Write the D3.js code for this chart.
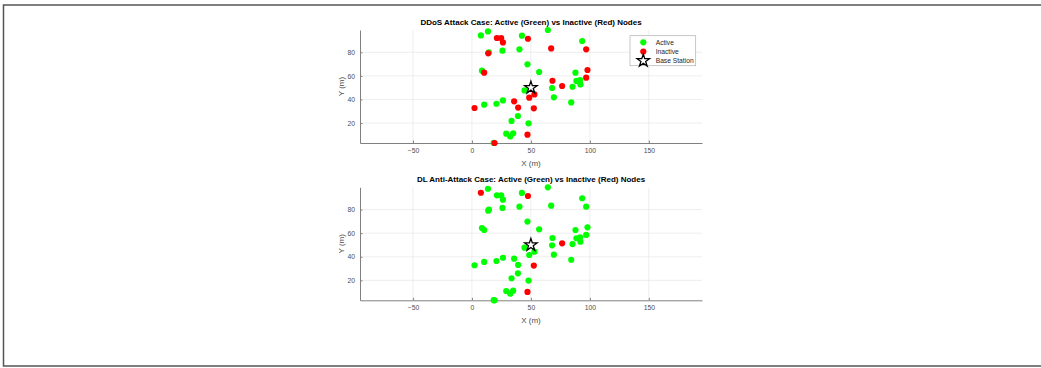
<!DOCTYPE html>
<html>
<head>
<meta charset="utf-8">
<script src="https://cdn.jsdelivr.net/npm/d3@7"></script>
<style>
  body { margin: 0; background: #fff; }
  svg { display: block; font-family: "Liberation Sans", Arial, sans-serif; }
  .grid line { stroke: #e3e3e3; stroke-width: 0.6; }
  .axis path, .axis line { stroke: #808080; }
  .axis text { fill: #4d4d4d; font-size: 6.8px; }
</style>
</head>
<body>
<svg width="1041" height="368"></svg>
<script>
// node positions (m), same nodes in both panels
const nodeX = [7.6, 13.6, 21.2, 24.8, 26.3, 42.4, 47.5, 14.4, 13.8, 25.9,
               40.3, 47.1, 8.5, 10.4, 44.6, 48.6, 26.3, 35.8, 20.8, 10.4,
               2.2, 39.2, 39.0, 33.6, 48.0, 29.1, 35.0, 32.5, 47.1, 19.2,
               64.4, 93.5, 67.2, 96.9, 57.0, 87.8, 98.0, 68.3, 88.6, 91.8,
               92.0, 96.9, 76.5, 68.0, 85.3, 53.0, 69.5, 84.2, 52.5, 18.5]
const nodeY = [94.3, 97.7, 92.1, 92.1, 88.4, 94.1, 91.5, 79.9, 79.1, 81.4,
               82.5, 69.8, 64.4, 62.7, 47.7, 41.5, 39.2, 38.4, 36.4, 35.6,
               32.8, 33.1, 26.0, 21.8, 19.8, 11.0, 11.3, 8.7, 10.2, 3.1,
               98.9, 89.6, 83.3, 82.5, 63.3, 62.7, 65.0, 55.9, 55.7, 56.5,
               52.8, 58.5, 51.4, 49.7, 50.8, 44.3, 41.8, 37.5, 32.5, 3.2]
// 1 = active, 0 = inactive
const ddosActive = [1, 1, 0, 0, 0, 1, 0, 1, 0, 1,
                    1, 1, 1, 0, 1, 0, 1, 0, 1, 1,
                    0, 0, 1, 1, 1, 1, 1, 1, 0, 0,
                    1, 1, 0, 0, 1, 1, 0, 0, 1, 1,
                    1, 0, 0, 1, 1, 0, 1, 1, 0, 1]
const dlActive = [0, 1, 1, 1, 1, 1, 0, 1, 1, 1,
                  1, 1, 1, 1, 1, 1, 1, 1, 1, 1,
                  1, 1, 1, 1, 1, 1, 1, 1, 0, 1,
                  1, 1, 1, 1, 1, 1, 1, 1, 1, 1,
                  1, 1, 0, 1, 1, 1, 1, 1, 0, 1]
const baseStation = [50, 50]
const xTicks = [-50, 0, 50, 100, 150]
const yTicks = [20, 40, 60, 80]
const legendLabels = ['Active', 'Inactive', 'Base Station']
const titles = [
    'DDoS Attack Case: Active (Green) vs Inactive (Red) Nodes',
    'DL Anti-Attack Case: Active (Green) vs Inactive (Red) Nodes'
]

const svg = d3.select('svg')

// figure frame
svg.append('rect')
    .attr('x', 3.5).attr('y', 5).attr('width', 1050).attr('height', 361)
    .attr('fill', 'none').attr('stroke', '#555').attr('stroke-width', 1.5)

const left = 360, right = 702, plotH = 113
const x = d3.scaleLinear().domain([-94.9, 195.1]).range([left, right])

const star = d3.symbol().type(d3.symbolStar).size(48)
const dot = d3.symbol().type(d3.symbolCircle).size(30)

function drawPanel(top, status, title, withLegend) {
    const y = d3.scaleLinear().domain([3.1, 98.9]).range([top + plotH, top])
    const g = svg.append('g')

    // grid
    const grid = g.append('g').attr('class', 'grid')
    grid.selectAll('.gx').data(xTicks).enter().append('line')
        .attr('x1', d => x(d)).attr('x2', d => x(d))
        .attr('y1', top).attr('y2', top + plotH)
    grid.selectAll('.gy').data(yTicks).enter().append('line')
        .attr('x1', left).attr('x2', right)
        .attr('y1', d => y(d)).attr('y2', d => y(d))

    g.append('g').attr('class', 'axis')
        .attr('transform', 'translate(0,' + (top + plotH) + ')')
        .call(d3.axisBottom(x).tickValues(xTicks).tickSizeInner(-2.5).tickSizeOuter(0).tickPadding(5))
    g.append('g').attr('class', 'axis')
        .attr('transform', 'translate(' + left + ',0)')
        .call(d3.axisLeft(y).tickValues(yTicks).tickSizeInner(-2.5).tickSizeOuter(0).tickPadding(5))

    g.append('text')
        .attr('x', (left + right) / 2).attr('y', top + plotH + 22.5)
        .attr('text-anchor', 'middle').attr('fill', '#4d4d4d').attr('font-size', '8px')
        .text('X (m)')
    g.append('text')
        .attr('transform', 'translate(344,' + (top + plotH / 2) + ') rotate(-90)')
        .attr('text-anchor', 'middle').attr('fill', '#4d4d4d').attr('font-size', '8px')
        .text('Y (m)')
    g.append('text')
        .attr('x', (left + right) / 2).attr('y', top - 5)
        .attr('text-anchor', 'middle').attr('font-weight', 'bold').attr('font-size', '8px')
        .attr('fill', '#000')
        .text(title)

    const idx = d3.range(nodeX.length)
    // active first, inactive drawn on top
    g.selectAll('.on').data(idx.filter(i => status[i] === 1)).enter().append('path')
        .attr('d', dot)
        .attr('transform', i => 'translate(' + x(nodeX[i]) + ',' + y(nodeY[i]) + ')')
        .attr('fill', '#00ff00')
    g.selectAll('.off').data(idx.filter(i => status[i] === 0)).enter().append('path')
        .attr('d', dot)
        .attr('transform', i => 'translate(' + x(nodeX[i]) + ',' + y(nodeY[i]) + ')')
        .attr('fill', '#ff0000')
    g.append('path')
        .attr('d', star)
        .attr('transform', 'translate(' + x(baseStation[0]) + ',' + y(baseStation[1]) + ')')
        .attr('fill', '#fff').attr('stroke', '#000').attr('stroke-width', 1.3)

    if (withLegend) {
        const lg = g.append('g').attr('transform', 'translate(630,35.7)')
        lg.append('rect').attr('width', 65.7).attr('height', 30)
            .attr('fill', '#fff').attr('stroke', '#b0b0b0').attr('stroke-width', 0.7)
        const rows = lg.selectAll('.row').data(legendLabels).enter().append('g')
            .attr('transform', (d, i) => 'translate(13.3,' + (6.6 + i * 9.2) + ')')
        rows.append('path')
            .attr('d', (d, i) => i < 2 ? dot() : star())
            .attr('fill', (d, i) => ['#00ff00', '#ff0000', '#fff'][i])
            .attr('stroke', (d, i) => i === 2 ? '#000' : 'none')
            .attr('stroke-width', 1.3)
        rows.append('text')
            .attr('x', 12.4).attr('dy', '0.35em')
            .attr('font-size', '6.7px').attr('fill', '#262626')
            .text(d => d)
    }
}

drawPanel(30, ddosActive, titles[0], true)
drawPanel(187.3, dlActive, titles[1], false)
</script>
</body>
</html>
